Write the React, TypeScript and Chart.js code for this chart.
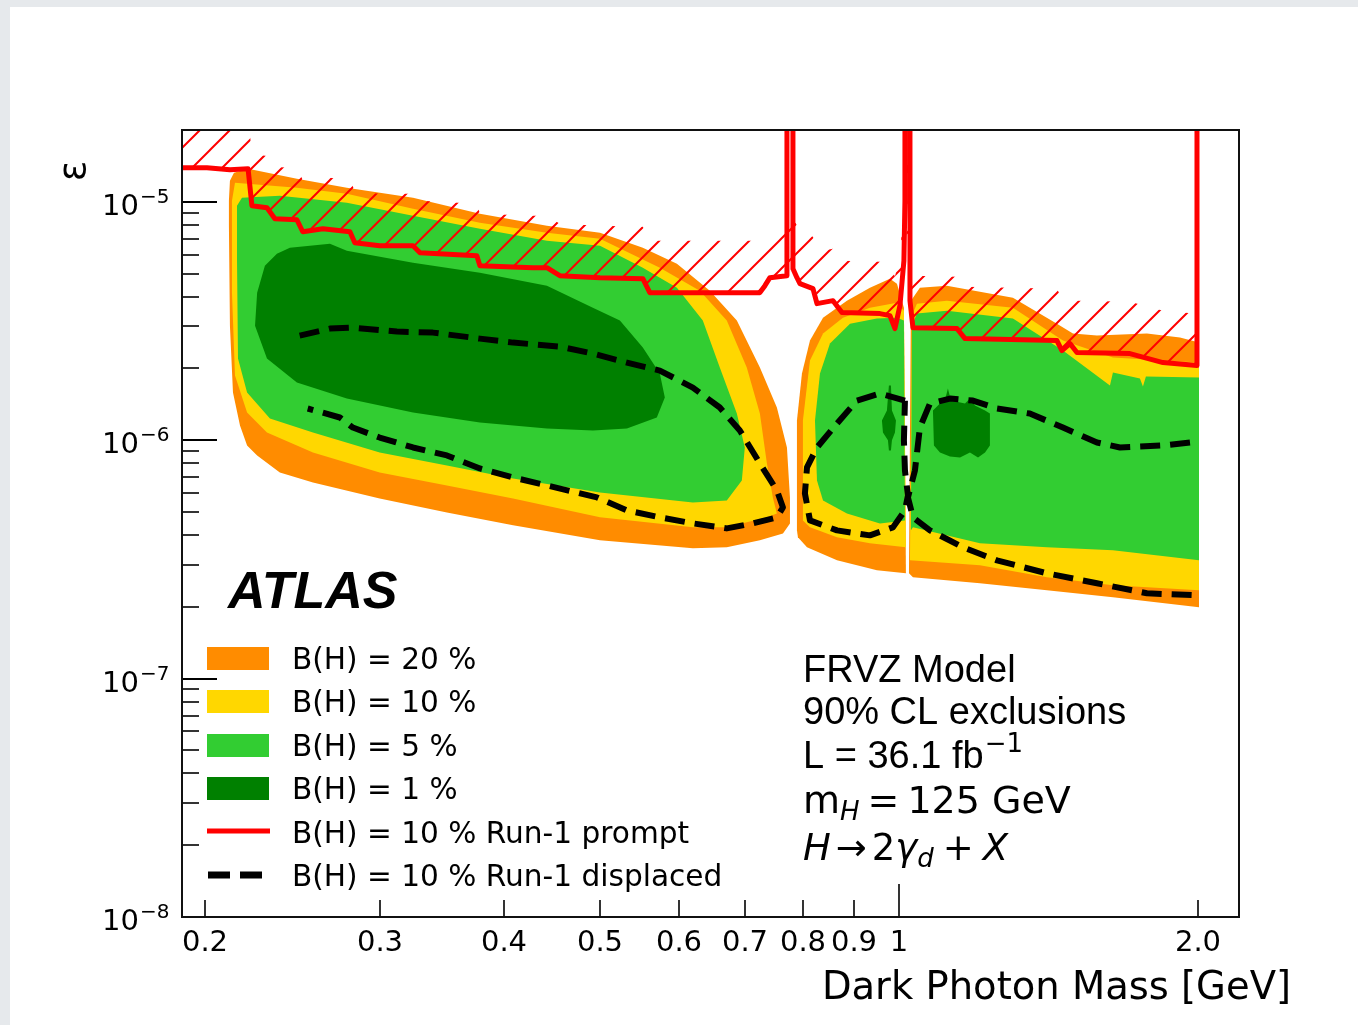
import React, { useEffect, useRef } from "react";
import { Chart, registerables } from "chart.js";

Chart.register(...registerables);

type P = [number, number];

// ---------- axis ticks ----------
const massTicks = [0.2, 0.3, 0.4, 0.5, 0.6, 0.7, 0.8, 0.9, 1, 2];
const massTickLabels = ["0.2", "0.3", "0.4", "0.5", "0.6", "0.7", "0.8", "0.9", "1", "2.0"];
const massMajorTicks = [1];
const epsDecades = [1e-8, 1e-7, 1e-6, 1e-5];
const epsDecadeExp = ["\u22128", "\u22127", "\u22126", "\u22125"];
const epsMinorMult = [2, 3, 4, 5, 6, 7, 8, 9];

// ---------- B(H)=20% (orange) ----------
const orangeLeft: P[] = [
  [0.2115, 7.933e-6], [0.2115, 1.01e-5], [0.212, 1.224e-5], [0.214, 1.323e-5], [0.2211, 1.375e-5],
  [0.2476, 1.248e-5], [0.278, 1.145e-5], [0.3241, 1.039e-5], [0.3785, 8.907e-6], [0.4421, 7.933e-6],
  [0.5, 7.414e-6], [0.5522, 6.416e-6], [0.5976, 5.498e-6], [0.645, 4.237e-6], [0.6867, 3.173e-6],
  [0.7244, 2.016e-6], [0.7535, 1.371e-6], [0.7713, 9.32e-7], [0.7767, 5.754e-7], [0.7767, 4.477e-7],
  [0.7642, 4.065e-7], [0.7244, 3.8e-7], [0.6709, 3.552e-7], [0.6201, 3.518e-7], [0.5, 3.8e-7],
  [0.4087, 4.392e-7], [0.3506, 4.979e-7], [0.3, 5.699e-7], [0.257, 6.65e-7], [0.238, 7.323e-7],
  [0.2258, 8.629e-7], [0.2206, 9.502e-7], [0.217, 1.152e-6], [0.2135, 1.584e-6], [0.212, 3.023e-6],
];
const orangeMid: P[] = [
  [0.7894, 4.185e-7], [0.7894, 1.209e-6], [0.7986, 1.903e-6], [0.8136, 2.616e-6], [0.8386, 3.266e-6],
  [0.8864, 3.848e-6], [0.935, 4.362e-6], [0.9793, 4.758e-6], [0.9954, 4.534e-6], [1.0116, 3.597e-6],
  [1.0163, 2.764e-7], [0.9502, 2.845e-7], [0.8662, 3.133e-7], [0.808, 3.552e-7], [0.7912, 3.912e-7],
];
const orangeRight: P[] = [
  [1.0235, 2.764e-7], [1.0282, 3.848e-6], [1.0498, 4.362e-6], [1.1176, 4.447e-6], [1.3025, 3.961e-6],
  [1.4424, 3.082e-6], [1.4969, 2.799e-6], [1.5826, 2.746e-6], [1.777, 2.799e-6], [1.9187, 2.693e-6],
  [2.0051, 2.566e-6], [2.0051, 1.991e-7], [1.6424, 2.193e-7], [1.4093, 2.346e-7], [1.2066, 2.51e-7],
  [1.033, 2.659e-7],
];

// ---------- B(H)=10% (yellow) ----------
const yellowLeft: P[] = [
  [0.213, 1.01e-5], [0.2145, 1.201e-5], [0.2476, 1.145e-5], [0.278, 1.08e-5], [0.3241, 9.347e-6],
  [0.3785, 8.166e-6], [0.4421, 7.414e-6], [0.5, 6.998e-6], [0.5744, 5.29e-6], [0.6302, 4.237e-6],
  [0.6709, 3.173e-6], [0.7027, 2.016e-6], [0.7244, 1.293e-6], [0.7363, 7.988e-7], [0.7465, 5.754e-7],
  [0.7535, 4.931e-7], [0.7363, 4.745e-7], [0.6709, 4.308e-7], [0.6201, 4.308e-7], [0.5, 4.745e-7],
  [0.4087, 5.699e-7], [0.3506, 6.459e-7], [0.3, 7.323e-7], [0.257, 8.882e-7], [0.231, 1.077e-6],
  [0.2206, 1.306e-6], [0.2145, 1.866e-6], [0.213, 4.157e-6],
];
const yellowMid: P[] = [
  [0.8004, 4.609e-7], [0.8004, 1.209e-6], [0.8136, 2.157e-6], [0.8386, 2.799e-6], [0.8782, 3.266e-6],
  [0.935, 3.597e-6], [0.9954, 3.774e-6], [1.0116, 3.494e-6], [1.0163, 3.552e-7], [0.935, 3.692e-7],
  [0.8662, 3.912e-7], [0.8136, 4.308e-7],
];
const yellowRight: P[] = [
  [1.0259, 3.133e-7], [1.0306, 3.33e-6], [1.0426, 3.738e-6], [1.1176, 3.848e-6], [1.3025, 3.597e-6],
  [1.4627, 2.616e-6], [1.6424, 2.221e-6], [1.8445, 2.157e-6], [2.0051, 2.116e-6], [2.0051, 2.346e-7],
  [1.6424, 2.462e-7], [1.4093, 2.659e-7], [1.2066, 2.986e-7],
];

// ---------- B(H)=5% (green) ----------
const greenLeft: P[] = [
  [0.2155, 9.621e-6], [0.218, 1.039e-5], [0.238, 1.06e-5], [0.278, 9.904e-6], [0.3241, 8.738e-6],
  [0.3785, 7.707e-6], [0.4421, 6.864e-6], [0.5, 6.541e-6], [0.5522, 5.29e-6], [0.5976, 4.362e-6],
  [0.6346, 3.173e-6], [0.6601, 2.016e-6], [0.6867, 1.293e-6], [0.6995, 9.32e-7], [0.6947, 6.779e-7],
  [0.6709, 5.59e-7], [0.6201, 5.483e-7], [0.5, 6.039e-7], [0.4087, 6.911e-7], [0.3506, 7.834e-7],
  [0.3, 8.882e-7], [0.257, 1.077e-6], [0.2326, 1.233e-6], [0.2206, 1.584e-6], [0.216, 2.199e-6],
  [0.2155, 5.77e-6],
];
const greenMid: P[] = [
  [0.8269, 6.779e-7], [0.8231, 1.209e-6], [0.8327, 1.903e-6], [0.8522, 2.542e-6], [0.8927, 3.082e-6],
  [0.9502, 3.235e-6], [0.9954, 3.266e-6], [1.0116, 3.173e-6], [1.014, 4.609e-7], [0.9569, 4.477e-7],
  [0.8864, 4.931e-7], [0.8386, 5.59e-7],
];
const greenRight: P[] = [
  [1.0282, 4.185e-7], [1.0306, 3.023e-6], [1.0426, 3.395e-6], [1.1176, 3.494e-6], [1.3025, 3.235e-6],
  [1.4627, 2.376e-6], [1.6311, 1.695e-6], [1.6424, 1.922e-6], [1.7485, 1.813e-6], [1.7607, 1.679e-6],
  [1.7729, 1.849e-6], [2.0051, 1.831e-6], [2.0051, 3.133e-7],
  [1.6424, 3.451e-7], [1.4093, 3.552e-7], [1.2066, 3.692e-7], [1.033, 4.308e-7],
];

// ---------- B(H)=1% (dark green) ----------
const darkLeft: P[] = [
  [0.2436, 6.416e-6], [0.2673, 6.668e-6], [0.278, 6.233e-6], [0.3241, 5.551e-6], [0.3785, 5.041e-6],
  [0.4421, 4.447e-6], [0.4918, 3.597e-6], [0.5236, 3.173e-6], [0.5522, 2.446e-6], [0.5744, 1.903e-6],
  [0.5811, 1.51e-6], [0.5704, 1.245e-6], [0.5322, 1.119e-6], [0.4918, 1.098e-6], [0.4421, 1.119e-6],
  [0.3785, 1.186e-6], [0.3241, 1.306e-6], [0.278, 1.495e-6], [0.2476, 1.745e-6], [0.231, 2.199e-6],
  [0.2247, 3.023e-6], [0.2258, 4.157e-6], [0.2299, 5.393e-6], [0.2364, 6.055e-6],
];
const darkMid: P[] = [
  [0.977, 1.695e-6], [0.9816, 1.695e-6], [0.9839, 1.331e-6], [0.9931, 1.209e-6], [0.9908, 1.077e-6],
  [0.9839, 1.0e-6], [0.9816, 9.056e-7], [0.977, 9.056e-7], [0.9748, 1.0e-6], [0.9636, 1.077e-6],
  [0.9613, 1.209e-6], [0.9725, 1.331e-6],
];
const darkRight: P[] = [
  [1.082, 1.331e-6], [1.0998, 1.424e-6], [1.1124, 1.466e-6], [1.1202, 1.646e-6], [1.1281, 1.466e-6],
  [1.1656, 1.424e-6], [1.179, 1.495e-6], [1.1927, 1.397e-6], [1.2209, 1.331e-6], [1.2348, 1.293e-6],
  [1.2348, 9.502e-7], [1.2209, 8.882e-7], [1.2012, 8.464e-7], [1.179, 8.882e-7], [1.1521, 8.464e-7],
  [1.1256, 8.545e-7], [1.0998, 8.882e-7], [1.0845, 9.502e-7],
];

// ---------- Run-1 prompt limit (red) ----------
const run1Prompt: P[] = [
  [0.188, 1.388e-5], [0.201, 1.388e-5], [0.212, 1.362e-5], [0.2211, 1.375e-5], [0.2231, 9.621e-6],
  [0.231, 9.438e-6], [0.2353, 8.487e-6], [0.2476, 8.406e-6], [0.251, 7.486e-6], [0.263, 7.707e-6],
  [0.28, 7.486e-6], [0.2832, 6.733e-6], [0.3, 6.541e-6], [0.3241, 6.541e-6], [0.3294, 6.114e-6],
  [0.3758, 5.94e-6], [0.3785, 5.393e-6], [0.428, 5.29e-6], [0.4421, 5.29e-6], [0.4555, 4.898e-6],
  [0.5, 4.804e-6], [0.5522, 4.758e-6], [0.5612, 4.157e-6], [0.6201, 4.157e-6], [0.7244, 4.157e-6],
  [0.7329, 4.447e-6], [0.7414, 4.804e-6], [0.7713, 4.898e-6], [0.7713, 1e-3], [0.7821, 1e-3],
  [0.7821, 5.239e-6], [0.7894, 4.804e-6], [0.7949, 4.534e-6], [0.8193, 4.32e-6], [0.8269, 3.738e-6],
  [0.8582, 3.848e-6], [0.8762, 3.428e-6], [0.9569, 3.395e-6], [0.9793, 3.33e-6], [0.9908, 2.938e-6],
  [1.0023, 3.667e-6], [1.0116, 5.659e-6], [1.014, 1.01e-5], [1.014, 1e-3], [1.0259, 1e-3],
  [1.0259, 3.848e-6], [1.033, 2.965e-6], [1.1441, 2.938e-6], [1.1656, 2.667e-6], [1.4424, 2.616e-6],
  [1.4592, 2.376e-6], [1.4866, 2.542e-6], [1.5109, 2.331e-6], [1.7083, 2.308e-6], [1.8445, 2.116e-6],
  [1.9958, 2.055e-6], [1.9958, 1e-3],
];

// ---------- Run-1 displaced limit (black dashed) ----------
const run1DispLeft: P[] = [
  [0.2492, 2.746e-6], [0.2673, 2.938e-6], [0.2819, 2.965e-6], [0.3122, 2.854e-6], [0.3394, 2.826e-6],
  [0.3785, 2.667e-6], [0.4087, 2.566e-6], [0.4555, 2.469e-6], [0.4918, 2.308e-6], [0.5322, 2.116e-6],
  [0.5744, 1.959e-6], [0.6201, 1.662e-6], [0.6601, 1.371e-6], [0.6915, 1.098e-6], [0.7244, 7.988e-7],
  [0.7535, 6.156e-7], [0.7642, 5.225e-7], [0.7535, 4.745e-7], [0.7126, 4.477e-7], [0.6709, 4.266e-7],
  [0.6201, 4.477e-7], [0.5744, 4.745e-7], [0.5322, 5.076e-7], [0.4964, 5.754e-7], [0.4421, 6.459e-7],
  [0.4087, 6.978e-7], [0.3785, 7.61e-7], [0.3506, 8.629e-7], [0.3241, 9.32e-7], [0.3, 1.026e-6],
  [0.2819, 1.13e-6], [0.2735, 1.245e-6], [0.2539, 1.358e-6],
];
const run1DispMid: P[] = [
  [1.014, 1.466e-6], [0.9569, 1.569e-6], [0.9072, 1.466e-6], [0.8662, 1.175e-6], [0.8269, 9.32e-7],
  [0.808, 7.684e-7], [0.8041, 5.981e-7], [0.8136, 4.609e-7], [0.8662, 4.185e-7], [0.935, 3.988e-7],
  [0.9862, 4.308e-7], [1.014, 5.076e-7], [1.0211, 5.866e-7], [1.014, 7.465e-7], [1.0116, 1.0e-6],
  [1.014, 1.466e-6],
];
const run1DispRight: P[] = [
  [1.9637, 9.781e-7], [1.8445, 9.502e-7], [1.6693, 9.32e-7], [1.5826, 9.781e-7], [1.4627, 1.13e-6],
  [1.3545, 1.293e-6], [1.255, 1.358e-6], [1.1871, 1.466e-6], [1.1256, 1.495e-6], [1.0745, 1.424e-6],
  [1.0498, 1.13e-6], [1.0378, 7.465e-7], [1.0211, 5.754e-7], [1.033, 4.745e-7], [1.0745, 4.185e-7],
  [1.1602, 3.552e-7], [1.255, 3.133e-7], [1.4093, 2.764e-7], [1.5826, 2.51e-7], [1.777, 2.279e-7],
  [1.9958, 2.236e-7],
];

const legendLabels = [
  "B(H) = 20 %",
  "B(H) = 10 %",
  "B(H) = 5 %",
  "B(H) = 1 %",
  "B(H) = 10 % Run-1 prompt",
  "B(H) = 10 % Run-1 displaced",
];

const ORANGE = "#ff8c00";
const YELLOW = "#ffd700";
const GREEN = "#32cd32";
const DARK = "#008000";
const RED = "#ff0000";
const HATCH_FACTOR = 1.65;

const toXY = (a: P[]) => a.map(([x, y]) => ({ x, y }));

function makeHatch(): CanvasPattern | string {
  const s = 30;
  const c = document.createElement("canvas");
  c.width = s;
  c.height = s;
  const g = c.getContext("2d");
  if (!g) return "rgba(255,0,0,0.3)";
  g.strokeStyle = RED;
  g.lineWidth = 2;
  g.beginPath();
  g.moveTo(-3, s + 3);
  g.lineTo(s + 3, -3);
  g.moveTo(-3, 3);
  g.lineTo(3, -3);
  g.moveTo(s - 3, s + 3);
  g.lineTo(s + 3, s - 3);
  g.stroke();
  return g.createPattern(c, "repeat") || "rgba(255,0,0,0.3)";
}

function shape(pts: P[], color: any, order: number) {
  return {
    data: toXY(pts),
    showLine: true,
    fill: "shape",
    backgroundColor: color,
    borderColor: "rgba(0,0,0,0)",
    borderWidth: 0,
    pointRadius: 0,
    pointHoverRadius: 0,
    tension: 0,
    order,
  };
}

function line(pts: P[], color: string, width: number, dash: number[], order: number) {
  return {
    data: toXY(pts),
    showLine: true,
    fill: false,
    borderColor: color,
    backgroundColor: color,
    borderWidth: width,
    borderDash: dash,
    borderJoinStyle: "round",
    pointRadius: 0,
    pointHoverRadius: 0,
    tension: 0,
    order,
  };
}

const pageFrame = {
  id: "pageFrame",
  beforeDraw(chart: any) {
    const ctx = chart.ctx;
    ctx.save();
    ctx.fillStyle = "#e6e9ec";
    ctx.fillRect(0, 0, chart.width, chart.height);
    ctx.fillStyle = "#ffffff";
    ctx.fillRect(10, 7, chart.width - 10, chart.height - 7);
    ctx.restore();
  },
};

function drawRuns(ctx: CanvasRenderingContext2D, x: number, y: number, runs: { t: string; f: string; dy?: number; gap?: number }[]) {
  let cx = x;
  for (const r of runs) {
    ctx.font = r.f;
    cx += r.gap || 0;
    ctx.fillText(r.t, cx, y + (r.dy || 0));
    cx += ctx.measureText(r.t).width;
  }
}

const overlay = {
  id: "overlay",
  afterDraw(chart: any) {
    const ctx: CanvasRenderingContext2D = chart.ctx;
    const xs = chart.scales.x;
    const ys = chart.scales.y;
    const { left, right, top, bottom } = chart.chartArea;
    ctx.save();
    ctx.strokeStyle = "#000";
    ctx.fillStyle = "#000";

    // x ticks (inward)
    massTicks.forEach((v, i) => {
      const px = Math.round(xs.getPixelForValue(v));
      const major = massMajorTicks.includes(v);
      ctx.lineWidth = 1.6;
      ctx.beginPath();
      ctx.moveTo(px, bottom);
      ctx.lineTo(px, bottom - (major ? 33 : 17));
      ctx.stroke();
      ctx.font = "29px 'DejaVu Sans'";
      ctx.textAlign = "center";
      ctx.textBaseline = "alphabetic";
      ctx.fillText(massTickLabels[i], px, bottom + 34);
    });

    // y ticks
    epsDecades.forEach((d, i) => {
      const py = Math.round(ys.getPixelForValue(d));
      ctx.lineWidth = 1.8;
      ctx.beginPath();
      ctx.moveTo(left, py);
      ctx.lineTo(left + 35, py);
      ctx.stroke();
      epsMinorMult.forEach((m) => {
        const v = d * m;
        if (v > ys.max * 1.0001) return;
        const pm = Math.round(ys.getPixelForValue(v));
        ctx.lineWidth = 1.6;
        ctx.beginPath();
        ctx.moveTo(left, pm);
        ctx.lineTo(left + 17, pm);
        ctx.stroke();
      });
      ctx.textAlign = "right";
      ctx.textBaseline = "alphabetic";
      ctx.font = "29px 'DejaVu Sans'";
      ctx.fillText("10", 139, py + 13);
      ctx.textAlign = "left";
      ctx.font = "20px 'DejaVu Sans'";
      ctx.fillText(epsDecadeExp[i], 140, py + 1);
    });

    // frame
    ctx.lineWidth = 2;
    ctx.strokeStyle = "#111";
    ctx.strokeRect(left, top, right - left, bottom - top);

    // axis titles
    ctx.fillStyle = "#000";
    ctx.font = "38.5px 'DejaVu Sans'";
    ctx.textAlign = "right";
    ctx.fillText("Dark Photon Mass [GeV]", 1291, 999);
    ctx.save();
    ctx.translate(75, 171);
    ctx.rotate(-Math.PI / 2);
    ctx.textAlign = "center";
    ctx.textBaseline = "middle";
    ctx.font = "38px 'DejaVu Sans'";
    ctx.fillText("\u03b5", 0, 0);
    ctx.restore();

    // ATLAS
    ctx.textAlign = "left";
    ctx.textBaseline = "alphabetic";
    ctx.font = "italic bold 52px 'Liberation Sans'";
    ctx.fillText("ATLAS", 228, 608);

    // legend
    const rowBase = [669, 712, 756, 799, 843, 886];
    const fills = [ORANGE, YELLOW, GREEN, DARK];
    fills.forEach((c, i) => {
      ctx.fillStyle = c;
      ctx.fillRect(207, rowBase[i] - 22, 62, 23);
    });
    ctx.strokeStyle = RED;
    ctx.lineWidth = 5;
    ctx.beginPath();
    ctx.moveTo(207, 831);
    ctx.lineTo(270, 831);
    ctx.stroke();
    ctx.strokeStyle = "#000";
    ctx.lineWidth = 7;
    ctx.setLineDash([22, 10]);
    ctx.beginPath();
    ctx.moveTo(208, 875);
    ctx.lineTo(263, 875);
    ctx.stroke();
    ctx.setLineDash([]);
    ctx.fillStyle = "#000";
    ctx.font = "29.6px 'DejaVu Sans'";
    legendLabels.forEach((t, i) => ctx.fillText(t, 292, rowBase[i]));

    // info text
    ctx.font = "38px 'Liberation Sans'";
    ctx.fillText("FRVZ Model", 803, 682);
    ctx.fillText("90% CL exclusions", 803, 724);
    drawRuns(ctx, 803, 768, [
      { t: "L = 36.1 fb", f: "38px 'Liberation Sans'" },
      { t: "\u22121", f: "26px 'DejaVu Sans'", dy: -16, gap: 1 },
    ]);
    drawRuns(ctx, 803, 813, [
      { t: "m", f: "38px 'DejaVu Sans'" },
      { t: "H", f: "italic 26px 'DejaVu Sans'", dy: 7 },
      { t: "=", f: "38px 'DejaVu Sans'", gap: 8 },
      { t: "125 GeV", f: "38px 'DejaVu Sans'", gap: 8 },
    ]);
    drawRuns(ctx, 803, 860, [
      { t: "H", f: "italic 37px 'DejaVu Sans'" },
      { t: "\u2192", f: "37px 'DejaVu Sans'", gap: 5 },
      { t: "2", f: "37px 'DejaVu Sans'", gap: 5 },
      { t: "\u03b3", f: "italic 37px 'DejaVu Sans'" },
      { t: "d", f: "italic 26px 'DejaVu Sans'", dy: 7 },
      { t: "+", f: "37px 'DejaVu Sans'", gap: 9 },
      { t: "X", f: "italic 37px 'DejaVu Sans'", gap: 9 },
    ]);
    ctx.restore();
  },
};

export default function App() {
  const ref = useRef<HTMLCanvasElement | null>(null);
  useEffect(() => {
    if (!ref.current) return;
    const hatch = makeHatch();
    const redNoSpike = run1Prompt.filter(([, y]) => y < 1e-4);
    const hatchBand: P[] = [
      ...redNoSpike,
      ...redNoSpike.slice().reverse().map(([x, y]) => [x, y * HATCH_FACTOR] as P),
    ];
    const datasets: any[] = [
      shape(orangeLeft, ORANGE, 30),
      shape(orangeMid, ORANGE, 30),
      shape(orangeRight, ORANGE, 30),
      shape(yellowLeft, YELLOW, 29),
      shape(yellowMid, YELLOW, 29),
      shape(yellowRight, YELLOW, 29),
      shape(greenLeft, GREEN, 28),
      shape(greenMid, GREEN, 28),
      shape(greenRight, GREEN, 28),
      shape(darkLeft, DARK, 27),
      shape(darkMid, DARK, 27),
      shape(darkRight, DARK, 27),
      shape(hatchBand, hatch, 26),
      line(run1Prompt, RED, 5, [], 25),
      line(run1DispLeft, "#000", 6, [20, 10], 24),
      line(run1DispMid, "#000", 6, [20, 10], 24),
      line(run1DispRight, "#000", 6, [20, 10], 24),
    ];
    const chart = new Chart(ref.current, {
      type: "scatter",
      data: { datasets },
      options: {
        responsive: false,
        animation: false,
        events: [],
        layout: { padding: { left: 182, top: 130, right: 119, bottom: 108 } },
        plugins: { legend: { display: false }, tooltip: { enabled: false } },
        scales: {
          x: { type: "logarithmic", min: 0.1897, max: 2.2, display: false },
          y: { type: "logarithmic", min: 1e-8, max: 2e-5, display: false },
        },
      } as any,
      plugins: [pageFrame, overlay],
    });
    return () => chart.destroy();
  }, []);
  return (
    <div style={{ position: "absolute", left: 0, top: 0, width: 1358, height: 1025, overflow: "hidden" }}>
      <canvas ref={ref} width={1358} height={1025} style={{ display: "block" }} />
    </div>
  );
}
